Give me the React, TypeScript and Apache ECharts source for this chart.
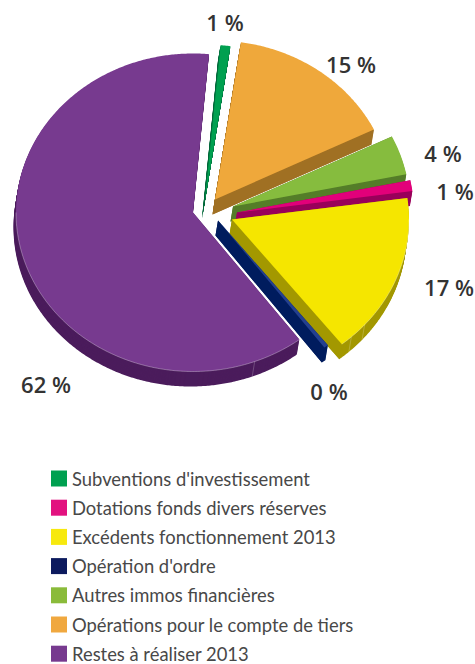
import React, { useEffect, useRef } from "react";
import * as echarts from "echarts";

// Clockwise from the top of the pie
const categories = [
  "Subventions d'investissement",
  "Opérations pour le compte de tiers",
  "Autres immos financières",
  "Dotations fonds divers réserves",
  "Excédents fonctionnement 2013",
  "Opération d'ordre",
  "Restes à réaliser 2013",
];
const values = [0.9, 15.4, 4, 1.1, 16.5, 0.4, 61.7];

const legendOrder = [
  "Subventions d'investissement",
  "Dotations fonds divers réserves",
  "Excédents fonctionnement 2013",
  "Opération d'ordre",
  "Autres immos financières",
  "Opérations pour le compte de tiers",
  "Restes à réaliser 2013",
];

const legendColors = ["#00A050", "#F0A83F", "#8ABB3A", "#E2127F", "#F7E90E", "#0C1A5E", "#773A8F"];
const topColors = ["#00A050", "#EFA83B", "#86BC3E", "#E2007A", "#F5E600", "#24408F", "#773A8F"];
const wallColors = ["#00683A", "#A07023", "#547D28", "#99005A", "#A39800", "#001C5E", "#4B1C5C"];

// Explosion of each slice away from the pie centre (px)
const explodeX = [11.5, 22, 40, 44, 39, 25, 0];
const explodeY = [-9, -13, -6, 0, 7, 8, 0];
// Seams drawn on the front wall (degrees clockwise from top)
const seams = [[], [], [], [], [137.6, 131.5], [], [159.6]];

// Label centres
const labelX = [225, 351, 443, 455, 449, 329, 46];
const labelY = [22, 64, 153, 191, 287, 391, 384];

const CX = 193;
const CY = 212.5;
const RX = 177;
const RY = 159;
const DEPTH = 15;
const SHEAR = -2.5;
const START = 5.2;

const total = values.reduce((a, b) => a + b, 0);
const rad = (d: number) => (d * Math.PI) / 180;

function point(i: number, deg: number, dx = 0, dy = 0): number[] {
  return [
    CX + explodeX[i] + RX * Math.sin(rad(deg)) + dx,
    CY + explodeY[i] - RY * Math.cos(rad(deg)) + dy,
  ];
}

function arc(i: number, a0: number, a1: number, dx = 0, dy = 0): number[][] {
  const pts: number[][] = [];
  const steps = Math.max(2, Math.ceil((a1 - a0) * 2));
  for (let s = 0; s <= steps; s++) pts.push(point(i, a0 + ((a1 - a0) * s) / steps, dx, dy));
  return pts;
}

function apex(i: number, dx = 0, dy = 0): number[] {
  return [CX + explodeX[i] + dx, CY + explodeY[i] + dy];
}

function face(i: number, a0: number, a1: number, dx = 0, dy = 0): number[][] {
  return [apex(i, dx, dy), ...arc(i, a0, a1, dx, dy)];
}

function makeSeries(i: number) {
  let before = 0;
  for (let k = 0; k < i; k++) before += values[k];
  const a0 = START + (before / total) * 360;
  const a1 = a0 + (values[i] / total) * 360;
  return {
    type: "custom",
    name: categories[i],
    coordinateSystem: "none",
    z: i === 6 ? 1 : 2,
    silent: true,
    itemStyle: { color: legendColors[i] },
    data: [values[i]],
    renderItem: () => {
      const children: any[] = [];
      const wall = { fill: wallColors[i] };
      for (let k = DEPTH; k >= 1; k--) {
        children.push({
          type: "polygon",
          shape: { points: face(i, a0, a1, (SHEAR * k) / DEPTH, k) },
          style: wall,
        });
      }
      // both cut faces, swept as one piece
      [a0, a1].forEach((a) => {
        children.push({
          type: "polygon",
          shape: { points: [apex(i), point(i, a), point(i, a, SHEAR, DEPTH), apex(i, SHEAR, DEPTH)] },
          style: wall,
        });
      });
      children.push({
        type: "polygon",
        shape: { points: face(i, a0, a1) },
        style: { fill: topColors[i] },
      });
      // light rim along the front of the arc
      const f0 = Math.max(a0, 90);
      const f1 = Math.min(a1, 270);
      if (f1 > f0 && values[i] > 2) {
        children.push({
          type: "polyline",
          shape: { points: arc(i, f0, f1) },
          style: { stroke: "rgba(255,255,255,0.45)", lineWidth: 0.7, fill: "none" },
        });
      }
      seams[i].forEach((s) => {
        children.push({
          type: "polyline",
          shape: { points: [point(i, s), point(i, s, SHEAR, DEPTH)] },
          style: { stroke: "rgba(255,255,255,0.3)", lineWidth: 0.7, fill: "none" },
        });
      });
      children.push({
        type: "text",
        style: {
          text: `${Math.round(values[i])} %`,
          x: labelX[i],
          y: labelY[i],
          fill: "#333333",
          fontFamily: "Open Sans",
          fontWeight: 600,
          fontSize: 22,
          textAlign: "center",
          textVerticalAlign: "middle",
        },
      });
      return { type: "group", children };
    },
  };
}

export default function App() {
  const ref = useRef<HTMLDivElement>(null);
  useEffect(() => {
    const chart = echarts.init(ref.current!, null, { renderer: "svg" });
    chart.setOption({
      animation: false,
      backgroundColor: "#ffffff",
      legend: {
        orient: "vertical",
        left: 51,
        top: 469.5,
        height: 194,
        padding: 0,
        itemWidth: 16,
        itemHeight: 16,
        itemGap: 11.2,
        icon: "rect",
        data: legendOrder,
        selectedMode: false,
        textStyle: {
          color: "#484848",
          fontFamily: "Lato",
          fontSize: 18.4,
          lineHeight: 18,
          padding: [0, 0, 0, 0],
        },
      },
      series: categories.map((_, i) => makeSeries(i)),
    });
    return () => chart.dispose();
  }, []);
  return <div ref={ref} style={{ position: "absolute", left: 0, top: 0, width: 475, height: 664 }} />;
}
